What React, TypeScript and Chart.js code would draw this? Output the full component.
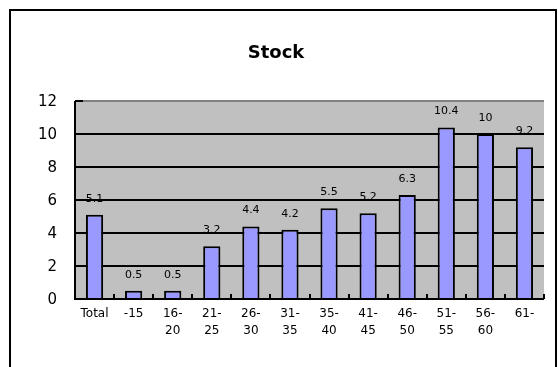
import React, { useEffect, useRef } from "react";
import { Chart, registerables } from "chart.js";

Chart.register(...registerables);

const categories: (string | string[])[] = [
  "Total", "-15", ["16-", "20"], ["21-", "25"], ["26-", "30"], ["31-", "35"],
  ["35-", "40"], ["41-", "45"], ["46-", "50"], ["51-", "55"], ["56-", "60"], "61-",
];
const stockValues = [5.1, 0.5, 0.5, 3.2, 4.4, 4.2, 5.5, 5.2, 6.3, 10.4, 10, 9.2];
const titleText = "Stock";
const yMin = 0;
const yMax = 12;
const yStep = 2;

const FONT = "'DejaVu Sans', sans-serif";

const framePlugin = {
  id: "frame",
  beforeDraw(chart: any) {
    const { ctx, chartArea: a } = chart;
    ctx.save();
    ctx.fillStyle = "#ffffff";
    ctx.fillRect(0, 0, chart.width, chart.height);
    ctx.fillStyle = "#C0C0C0";
    ctx.fillRect(a.left, a.top, a.right - a.left, a.bottom - a.top);
    ctx.strokeStyle = "#000";
    ctx.lineWidth = 2;
    ctx.strokeRect(10, 10, 546, 420);
    ctx.fillStyle = "#000";
    ctx.font = `bold 18px ${FONT}`;
    ctx.textAlign = "center";
    ctx.textBaseline = "middle";
    ctx.fillText(titleText, 276, 53);
    ctx.restore();
  },
  afterDatasetsDraw(chart: any) {
    const { ctx, chartArea: a } = chart;
    const y = chart.scales.y;
    ctx.save();
    ctx.strokeStyle = "#000";
    ctx.lineWidth = 2;
    ctx.beginPath();
    ctx.moveTo(a.left, a.top);
    ctx.lineTo(a.left, a.bottom);
    ctx.lineTo(a.right, a.bottom);
    ctx.stroke();
    ctx.beginPath();
    ctx.moveTo(a.left, y.getPixelForValue(yMax));
    ctx.lineTo(a.left + 8, y.getPixelForValue(yMax));
    ctx.stroke();
    const n = categories.length;
    const w = (a.right - a.left) / n;
    ctx.beginPath();
    for (let i = 1; i <= n; i++) {
      const px = Math.round(a.left + i * w);
      ctx.moveTo(px, a.bottom);
      ctx.lineTo(px, a.bottom - 5);
    }
    ctx.stroke();
    // y tick labels
    ctx.fillStyle = "#000";
    ctx.font = `15px ${FONT}`;
    ctx.textAlign = "right";
    ctx.textBaseline = "middle";
    y.ticks.forEach((t: any) => {
      ctx.fillText(String(t.value), 57, y.getPixelForValue(t.value) + 1);
    });
    // data labels
    ctx.font = `11px ${FONT}`;
    ctx.textAlign = "center";
    const meta = chart.getDatasetMeta(0);
    meta.data.forEach((bar: any, i: number) => {
      ctx.fillText(String(stockValues[i]), bar.x, bar.y - 16);
    });
    ctx.restore();
  },
};

export default function App() {
  const ref = useRef<HTMLCanvasElement>(null);
  useEffect(() => {
    document.body.style.margin = "0";
    const chart = new Chart(ref.current!, {
      type: "bar",
      data: {
        labels: categories,
        datasets: [
          {
            data: stockValues,
            backgroundColor: "#9999FF",
            borderColor: "#000000",
            borderWidth: 2,
            barPercentage: 0.44,
            categoryPercentage: 1,
          },
        ],
      },
      options: {
        animation: false,
        responsive: false,
        devicePixelRatio: 1,
        layout: { padding: { top: 101, right: 14, left: 0, bottom: 0 } },
        plugins: { legend: { display: false }, title: { display: false }, tooltip: { enabled: false } },
        scales: {
          x: {
            grid: { display: false, drawTicks: false },
            border: { display: false },
            ticks: { color: "#000", font: { family: FONT, size: 12, lineHeight: 1.45 }, padding: 6, maxRotation: 0, autoSkip: false },
            afterFit(scale: any) { scale.height = 68; },
          },
          y: {
            min: yMin,
            max: yMax,
            ticks: { stepSize: yStep, display: false },
            grid: {
              drawTicks: false,
              color: (c: any) => (c.tick && c.tick.value === yMax ? "#808080" : "#000"),
              lineWidth: 2,
            },
            border: { display: false },
            afterFit(scale: any) { scale.width = 75; },
          },
        },
      },
      plugins: [framePlugin],
    });
    return () => chart.destroy();
  }, []);
  return <canvas ref={ref} width={558} height={367} style={{ display: "block" }} />;
}
